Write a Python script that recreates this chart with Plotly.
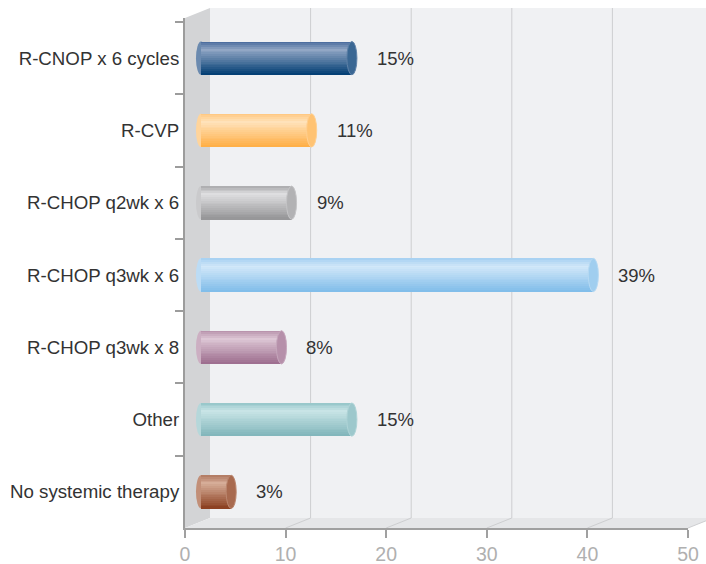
import plotly.graph_objects as go

# ---- data ----
categories = ["R-CNOP x 6 cycles", "R-CVP", "R-CHOP q2wk x 6", "R-CHOP q3wk x 6",
              "R-CHOP q3wk x 8", "Other", "No systemic therapy"]
values = [15, 11, 9, 39, 8, 15, 3]
x_ticks = [0, 10, 20, 30, 40, 50]

# ---- styles: (top edge, highlight, bottom) per bar ----
palettes = [
    ("#44679a", "#92a7c5", "#003c72"),
    ("#ffc67c", "#ffe2ba", "#ffae44"),
    ("#a9a9ab", "#dedee0", "#949496"),
    ("#a4cff1", "#d2e8f9", "#7fbce9"),
    ("#b58ea8", "#ddc7d5", "#9c6c8d"),
    ("#93c4c8", "#c8e4e6", "#80b5ba"),
    ("#b07860", "#d6ad98", "#8a3e1f"),
]

def hex2rgb(h):
    h = h.lstrip("#")
    return tuple(int(h[i:i + 2], 16) for i in (0, 2, 4))

def mix(a, b, t):
    ra, rb = hex2rgb(a), hex2rgb(b)
    return "rgb(%d,%d,%d)" % tuple(round(ra[i] + (rb[i] - ra[i]) * t) for i in range(3))

def grad(p, t):
    top, hi, bot = p
    if t < 0.25:
        return mix(top, hi, t / 0.25)
    return mix(hi, bot, (t - 0.25) / 0.75)

H = 0.46          # bar thickness (category units)
N = 18            # gradient bands
CAP = 1.0         # cap ellipse width in x units
FONT = "Liberation Sans, Arial"

fig = go.Figure()
# invisible trace so the primary (tick) x axis is drawn
fig.add_trace(go.Scatter(x=[None], y=[None], xaxis="x", yaxis="y", mode="markers",
                         showlegend=False, hoverinfo="skip"))
for k in range(N):
    t = (k + 0.5) / N
    fig.add_trace(go.Bar(
        x=values, y=categories, orientation="h", xaxis="x2", yaxis="y",
        width=H / N * 1.2, offset=-H / 2 + k * H / N - (H / N * 0.1 if k else 0),
        marker=dict(color=[grad(p, t) for p in palettes], line=dict(width=0)),
        hoverinfo="skip", showlegend=False,
    ))

# ---- 3D frame decorations (paper coordinates) ----
PW, PH = 503, 506
dx, dy = 25 / PW, 10 / PH
top_back = 1 + 14 / PH
wall_line = "#cdced0"
shapes = [
    dict(type="rect", xref="paper", yref="paper", x0=dx, x1=1.2, y0=dy, y1=top_back,
         fillcolor="#f0f1f3", line=dict(width=0), layer="below"),
    dict(type="path", xref="paper", yref="paper",
         path=f"M 0 0 L {dx} {dy} L {dx} {top_back} L 0 {top_back - dy} Z",
         fillcolor="#d3d4d6", line=dict(width=0), layer="below"),
    dict(type="path", xref="paper", yref="paper",
         path=f"M 0 0 L 1 0 L {1 + dx} {dy} L {dx} {dy} Z",
         fillcolor="#e5e6e8", line=dict(width=0), layer="below"),
]
for v in x_ticks[1:]:
    xp = v / 50
    shapes.append(dict(type="line", xref="paper", yref="paper", x0=xp + dx, x1=xp + dx,
                       y0=dy, y1=top_back, line=dict(color=wall_line, width=1), layer="below"))
    shapes.append(dict(type="line", xref="paper", yref="paper", x0=xp, x1=xp + dx,
                       y0=0, y1=dy, line=dict(color=wall_line, width=1), layer="below"))
shapes.append(dict(type="line", xref="paper", yref="paper", x0=-1 / PW, x1=-1 / PW,
                   y0=0.99, y1=top_back - dy, line=dict(color="#9c9c9c", width=2)))

# cylinder caps
for i, (v, p) in enumerate(zip(values, palettes)):
    shapes.append(dict(type="circle", xref="x2", yref="y", x0=-CAP / 2, x1=CAP / 2,
                       y0=i - H / 2, y1=i + H / 2, fillcolor=grad(p, 0.45),
                       line=dict(width=0), layer="below"))
    shapes.append(dict(type="circle", xref="x2", yref="y", x0=v - CAP / 2, x1=v + CAP / 2,
                       y0=i - H / 2, y1=i + H / 2, fillcolor=mix(p[1], p[2], 0.6),
                       line=dict(color=mix(p[1], p[2], 0.35), width=1), layer="above"))

annotations = [dict(x=v, y=c, xref="x2", yref="y", text=f"{v}%", showarrow=False,
                    xanchor="left", xshift=23,
                    font=dict(family=FONT, size=18.5, color="#333333"))
               for c, v in zip(categories, values)]

zero_px = 16  # bars' baseline sits at mid depth of the 3D frame
off = zero_px / PW * 50

fig.update_layout(
    width=706, height=564,
    margin=dict(l=185, r=18, t=22, b=36, autoexpand=False),
    paper_bgcolor="white", plot_bgcolor="white",
    barmode="overlay", bargap=0,
    font=dict(family=FONT, color="#333333"),
    xaxis=dict(range=[0, 50], tickvals=x_ticks, ticks="outside", ticklen=8, tickwidth=2,
               tickcolor="#a0a0a0", showline=True, linecolor="#a0a0a0", linewidth=2,
               showgrid=False, zeroline=False, fixedrange=True, automargin=False,
               tickfont=dict(family=FONT, size=19.5, color="#b0b0b0")),
    xaxis2=dict(range=[-off, 50 - off], overlaying="x", anchor="y", visible=False),
    yaxis=dict(type="category", categoryorder="array", categoryarray=categories,
               autorange="reversed", ticks="outside", tickson="boundaries", ticklen=8,
               tickwidth=2, tickcolor="#9c9c9c", showline=True, linecolor="#9c9c9c",
               linewidth=2, showgrid=False, zeroline=False, automargin=False,
               tickfont=dict(family=FONT, size=18.7, color="#333333")),
    shapes=shapes, annotations=annotations,
)

fig.write_html("out.html")
